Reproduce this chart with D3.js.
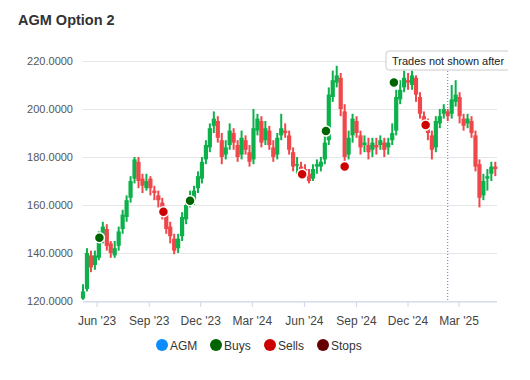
<!DOCTYPE html>
<html><head><meta charset="utf-8">
<script src="https://cdn.jsdelivr.net/npm/d3@7"></script>
<style>body{margin:0;background:#fff;}svg{display:block;font-family:"Liberation Sans",Arial,sans-serif;}</style>
</head><body>
<script>
const title = "AGM Option 2";
const firstWeek = "2023-05-08";
const opens  = [121,125,139,135,138,146,150,144,139,143,150,155,163,171,178,171,167,171,166,164,161,156,151,146,142,147,154,161,162,167,171,179,184,193,195,187,181,185,190,185,181,187,182,179,191,195,187,191,184,181,189,191,189,182,177,176,175,173,171,176,176,179,187,205,211,213,199,181,189,195,189,185,185,183,185,185,186,184,187,191,204,209,212,210,213,205,197,194,189,184,194,198,199,198,203,205,196,194,195,189,177,164,171,173,176];
const highs  = [127,142,141,141,149,153,152,145,145,151,158,164,172,180,180,173,173,172,168,166,163,157,153,148,148,157,162,166,168,174,180,187,194,199,197,190,187,194,192,187,191,189,185,200,198,197,195,193,187,190,198,194,191,184,180,178,177,175,177,179,180,189,209,216,218,215,202,191,198,197,191,189,188,188,188,189,188,188,194,208,212,216,215,216,214,207,199,196,191,197,200,202,200,210,212,207,198,198,197,191,179,173,175,178,178];
const lows   = [120.5,124,132,133,137,144,141,138,138,141,148,153,161,169,167,165,166,164,162,159,154,148,144,139.5,140,145,152,159,160,165,169,177,182,190,186,177,179,183,183,178,179,181,176,177,189,184,185,183,178,179,187,188,181,174,173,172,172,169,170,173,174,177,185,203,209,197,175,179,186,188,181,182,179,180,181,183,180,181,185,189,202,207,208,208,203,196,192,187,179,182,192,196,195,196,201,194,191,192,188,174,159,162,166,170,172];
const closes = [124,140,134,139,147,151,143,140,142,149,156,162,170,179,170,168,170,167,165,162,157,150,147,141,146,155,160,163,166,172,178,185,192,196,188,180,184,191,186,180,188,183,178,192,196,186,192,185,180,188,192,190,183,176,177,174,174,170,175,177,178,186,206,212,214,200,180,188,196,190,184,186,182,186,184,187,183,186,190,205,208,213,211,214,206,198,195,190,183,195,197,200,197,204,206,197,193,196,190,176,163,170,172,176,175];
const buyDates  = ["2023-06-06","2023-11-13","2024-07-10","2024-11-07"];
const buyPrices = [146.4,161.8,190.8,211];
const sellDates  = ["2023-09-27","2024-05-29","2024-08-12","2025-01-02"];
const sellPrices = [157.2,172.8,176,193.3];
const cutoffDate = "2025-02-10";
const cutoffLabel = "Trades not shown after";
const xDomain = ["2023-05-08","2025-05-08"];
const yTicks = [120,140,160,180,200,220];
const xTicks = ["2023-06-01","2023-09-01","2023-12-01","2024-03-01","2024-06-01","2024-09-01","2024-12-01","2025-03-01"];
const legendNames  = ["AGM","Buys","Sells","Stops"];
const legendColors = ["#0a8cff","#006400","#cc0000","#660000"];

const W=530,H=380, L=83, R=497, T=61, B=301;
const parse = d3.timeParse("%Y-%m-%d");
const start = parse(firstWeek);
const dates = opens.map((_,i)=>d3.timeWeek.offset(start,i));
const x = d3.scaleTime().domain(xDomain.map(parse)).range([L,R]);
const y = d3.scaleLinear().domain([120,220]).range([B,T]);

const svg = d3.select("body").append("svg").attr("width",W).attr("height",H);
svg.append("rect").attr("width",W).attr("height",H).attr("fill","#fff");
svg.append("text").attr("x",18).attr("y",25).attr("font-size",14.5).attr("font-weight","bold").attr("fill","#333").text(title);

// grid
const yAxis = d3.axisLeft(y).tickValues(yTicks).tickSize(-(R-L)).tickFormat(d=>d3.format(".4f")(d));
const gy = svg.append("g").attr("transform",`translate(${L},0)`).call(yAxis);
gy.select(".domain").remove();
gy.selectAll(".tick line").attr("stroke","#e6e6e6");
gy.selectAll(".tick text").attr("x",-10).attr("font-size",11).attr("fill","#555").attr("font-family","Liberation Sans, Arial, sans-serif");

const xAxis = d3.axisBottom(x).tickValues(xTicks.map(parse)).tickSize(5).tickFormat(d3.timeFormat("%b '%y"));
const gx = svg.append("g").attr("transform",`translate(0,${B+1})`).call(xAxis);
gx.select(".domain").attr("stroke","#ccd6eb").attr("d",`M${L},0H${R}`);
gx.selectAll(".tick line").attr("stroke","#ccd6eb");
gx.selectAll(".tick text").attr("y",14).attr("font-size",12).attr("fill","#444").attr("font-family","Liberation Sans, Arial, sans-serif");

// candles
const up="#0cb14b", down="#f0474a";
const cg = svg.append("g");
dates.forEach((d,i)=>{
  const col = closes[i]>=opens[i]?up:down;
  const cx = x(d);
  cg.append("line").attr("x1",cx).attr("x2",cx).attr("y1",y(highs[i])).attr("y2",y(lows[i])).attr("stroke",col).attr("stroke-width",2);
  const yt=y(Math.max(opens[i],closes[i])), yb=y(Math.min(opens[i],closes[i]));
  cg.append("rect").attr("x",cx-2.1).attr("width",4.2).attr("y",yt).attr("height",Math.max(1.5,yb-yt)).attr("fill",col);
});

// cutoff line
const cx0 = x(parse(cutoffDate));
svg.append("line").attr("x1",cx0).attr("x2",cx0).attr("y1",T-8).attr("y2",B).attr("stroke","#6a6ad0").attr("stroke-width",1).attr("stroke-dasharray","1,2");

// trades
function dots(ds,ps,col){
  ds.forEach((d,i)=>{
    svg.append("circle").attr("cx",x(parse(d))).attr("cy",y(ps[i])).attr("r",5).attr("fill",col).attr("stroke","#fff").attr("stroke-width",1.5);
  });
}
dots(buyDates,buyPrices,"#006400");
dots(sellDates,sellPrices,"#cc0000");

// label box
const lb = svg.append("g");
lb.append("rect").attr("x",386).attr("y",51).attr("width",130).attr("height",19).attr("rx",3).attr("fill","#fff").attr("stroke","#ccc");
lb.append("text").attr("x",392).attr("y",65).attr("font-size",11).attr("fill","#222").text(cutoffLabel);
svg.append("rect").attr("x",508).attr("y",40).attr("width",30).attr("height",40).attr("fill","#fff");

// legend
const legX=[162,216,270,323];
legendNames.forEach((n,i)=>{
  svg.append("circle").attr("cx",legX[i]).attr("cy",345).attr("r",6).attr("fill",legendColors[i]);
  svg.append("text").attr("x",legX[i]+8).attr("y",349.5).attr("font-size",12).attr("fill","#333").text(n);
});
</script>
</body></html>
